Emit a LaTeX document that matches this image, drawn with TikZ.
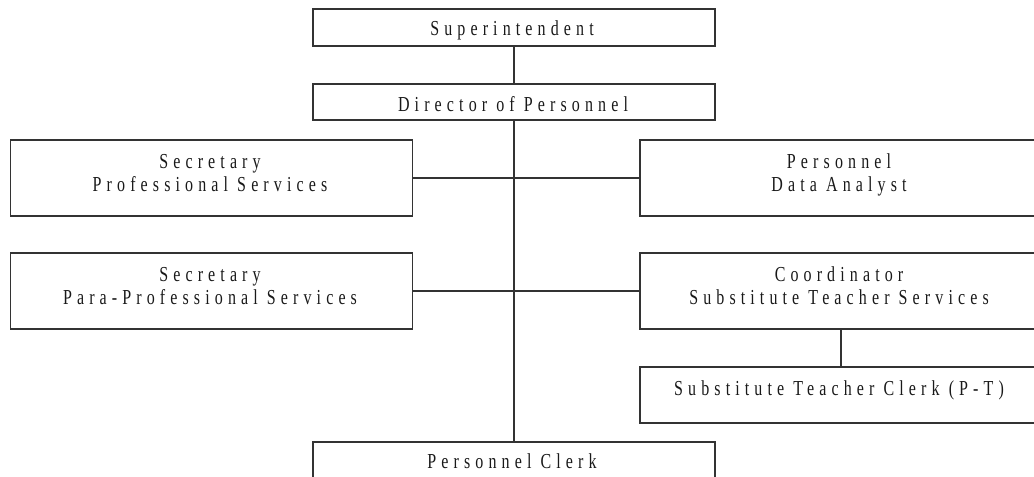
\documentclass[tikz,border=0pt]{standalone}
\usepackage{fontspec}
\newfontfamily\orgfont[FakeStretch=0.75,LetterSpace=24]{Liberation Serif}
\begin{document}
\begin{tikzpicture}[x=0.75pt,y=-0.75pt,
  line width=0.8pt,
  unit/.style={draw=black!80,line width=0.8pt,rectangle,inner sep=0pt,outer sep=0pt},
  wide/.style={unit,minimum width=301.5pt},
  caption/.style={inner sep=0pt,anchor=base,align=center,text=black!90,
    font=\orgfont\fontsize{16}{17.25}\selectfont},
  link/.style={draw=black!80,line width=0.8pt}]
\useasboundingbox (0,0) rectangle (1034,477);
\clip (0,0) rectangle (1034,477);

% boxes
\node[wide,minimum height=27.75pt] (sup)   at (514,27.5) {};
\node[wide,minimum height=27pt]    (dir)   at (514,102)  {};
\node[wide,minimum height=57pt]    (secp)  at (211.5,178) {};
\node[wide,minimum height=57pt]    (pda)   at (841,178)  {};
\node[wide,minimum height=57pt]    (secpp) at (211.5,291) {};
\node[wide,minimum height=57pt]    (coord) at (841,291)  {};
\node[wide,minimum height=42pt]    (stc)   at (841,395)  {};
\node[wide,minimum height=58.5pt]  (pc)    at (514,481)  {};

% titles (base anchor sits on the last line)
\node[caption] (tsup)   at (512,36)   {Superintendent};
\node[caption] (tdir)   at (513,112)  {Director of Personnel};
\node[caption] (tsecp)  at (210,191.5) {Secretary\\Professional Services};
\node[caption] (tpda)   at (839,191.5) {Personnel\\Data Analyst};
\node[caption] (tsecpp) at (210,304.5) {Secretary\\Para-Professional Services};
\node[caption] (tcoord) at (839,304.5) {Coordinator\\Substitute Teacher Services};
\node[caption] (tstc)   at (839,395)  {Substitute Teacher Clerk (P-T)};
\node[caption] (tpc)    at (512,468)  {Personnel Clerk};

% connectors
\draw[link] (sup.south) -- (dir.north);
\draw[link] (dir.south) -- (pc.north);
\draw[link] (secp.east) -- (pda.west);
\draw[link] (secpp.east) -- (coord.west);
\draw[link] (coord.south) -- (stc.north);
\end{tikzpicture}
\end{document}
